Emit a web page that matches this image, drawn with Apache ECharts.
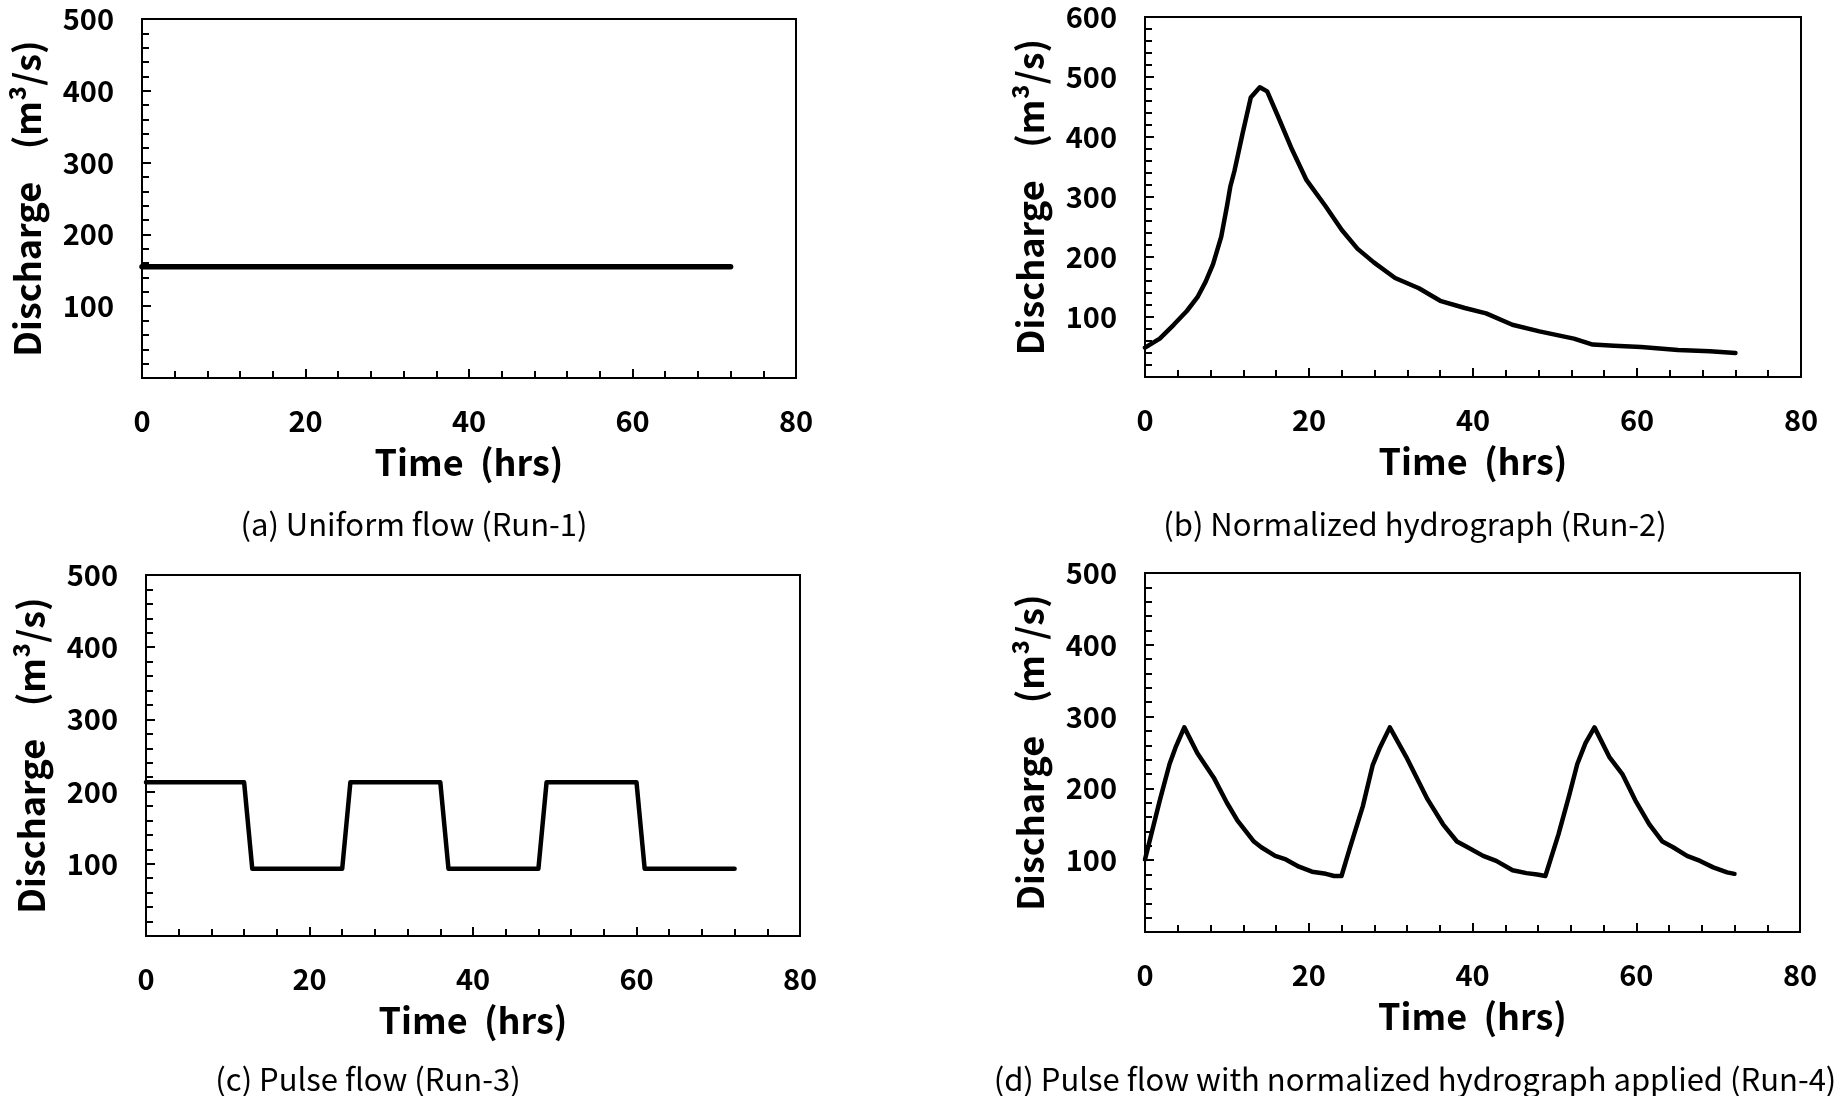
<!DOCTYPE html>
<html>
<head>
<meta charset="utf-8">
<script src="https://cdn.jsdelivr.net/npm/echarts@6/dist/echarts.min.js"></script>
<style>
html,body{margin:0;padding:0;background:#fff;}
#chart{width:1837px;height:1096px;}
</style>
</head>
<body>
<div id="chart"></div>
<script>
// ---- data ----
const xTicks = [0, 20, 40, 60, 80];
const captions = [
  "(a) Uniform flow (Run-1)",
  "(b) Normalized hydrograph (Run-2)",
  "(c) Pulse flow (Run-3)",
  "(d) Pulse flow with normalized hydrograph applied (Run-4)"
];
const xTitle = "Time  (hrs)";
const yTitle = "Discharge    (m\u00B3/s)";

const timeA = [0, 72];
const flowA = [155, 155];

const timeB = [0, 1.8, 3.5, 5.1, 6.4, 7.4, 8.3, 9.3, 10, 10.4, 10.9, 11.9, 12.9, 14, 14.9, 16.2, 17.8, 19.7, 22, 24, 25.9, 27.9, 30.5, 33.4, 36, 39, 41.6, 44.8, 48.1, 52.3, 54.6, 57.2, 60.5, 65, 68.9, 72];
const flowB = [49, 64, 87, 110, 133, 159, 188, 234, 285, 317, 343, 406, 466, 483, 476, 435, 383, 328, 285, 245, 214, 191, 165, 148, 127, 115, 106, 87, 76, 64, 54, 52, 50, 45, 43, 40];

const timeC = [0, 12, 13, 24, 25, 36, 37, 48, 49, 60, 61, 72];
const flowC = [213, 213, 93, 93, 213, 213, 93, 93, 213, 213, 93, 93];

const timeD = [0, 1.8, 3, 3.8, 4.8, 6.4, 8.4, 10, 11.3, 13.3, 14.2, 15.9, 17.2, 18.8, 20.4, 22.1, 23.1, 24, 25, 26.6, 27.8, 28.7, 29.9, 31.9, 34.5, 36.4, 38.1, 39.4, 41.3, 42.9, 44.9, 46.6, 47.9, 48.9, 50.5, 51.8, 52.8, 53.8, 54.9, 56.7, 58.3, 59.9, 61.6, 63.2, 64.5, 66.2, 67.8, 69.4, 71.1, 72];
const flowD = [101, 183, 234, 259, 285, 249, 215, 180, 155, 126, 118, 106, 101, 91, 84, 81, 78, 78, 116, 175, 232, 257, 285, 244, 185, 150, 126, 118, 106, 99, 86, 82, 80, 78, 136, 190, 234, 263, 285, 244, 220, 183, 150, 126, 118, 106, 99, 90, 83, 81];

const yMax = [500, 600, 500, 500];

// ---- layout ----
const grids = [
  {left: 142, top: 19, width: 654, height: 359},
  {left: 1145, top: 17, width: 656, height: 360},
  {left: 146, top: 575, width: 654, height: 361},
  {left: 1145, top: 573, width: 655, height: 359}
];
const captionPos = [[414, 524], [1415, 524], [368, 1079], [1415, 1079]];
const lineWidths = [5.5, 4.5, 4.5, 4.5];

const FONT = '"Noto Sans CJK KR", "Noto Sans", sans-serif';

function pairs(t, v) { return t.map((x, i) => [x, v[i]]); }
const seriesData = [pairs(timeA, flowA), pairs(timeB, flowB), pairs(timeC, flowC), pairs(timeD, flowD)];

const chart = echarts.init(document.getElementById('chart'), null, {renderer: 'canvas'});

const option = {
  animation: false,
  backgroundColor: '#fff',
  grid: grids.map(g => Object.assign({show: true, borderColor: '#000', borderWidth: 2, backgroundColor: 'transparent', containLabel: false}, g)),
  xAxis: grids.map((g, i) => ({
    gridIndex: i,
    type: 'value',
    min: xTicks[0], max: xTicks[xTicks.length - 1], interval: 20,
    name: xTitle,
    nameLocation: 'middle',
    nameGap: 66,
    nameTextStyle: {fontFamily: FONT, fontWeight: 'bold', fontSize: 36, color: '#000'},
    axisLine: {lineStyle: {color: '#000', width: 2}},
    axisTick: {inside: true, length: 9, lineStyle: {color: '#000', width: 2}},
    minorTick: {show: true, splitNumber: 5, length: 7, lineStyle: {color: '#000', width: 2}},
    splitLine: {show: false},
    axisLabel: {margin: 28, fontFamily: FONT, fontWeight: 'bold', fontSize: 29, color: '#000'}
  })),
  yAxis: grids.map((g, i) => ({
    gridIndex: i,
    type: 'value',
    min: 0, max: yMax[i], interval: 100,
    name: yTitle,
    nameLocation: 'middle',
    nameGap: 97,
    nameTextStyle: {fontFamily: FONT, fontWeight: 'bold', fontSize: 36, color: '#000'},
    axisLine: {lineStyle: {color: '#000', width: 2}},
    axisTick: {inside: true, length: 9, lineStyle: {color: '#000', width: 2}},
    minorTick: {show: true, splitNumber: 5, length: 7, lineStyle: {color: '#000', width: 2}},
    splitLine: {show: false},
    axisLabel: {showMinLabel: false, margin: 28, fontFamily: FONT, fontWeight: 'bold', fontSize: 29, color: '#000'}
  })),
  series: seriesData.map((d, i) => ({
    type: 'line',
    xAxisIndex: i, yAxisIndex: i,
    data: d,
    showSymbol: false,
    symbol: 'none',
    lineStyle: {color: '#000', width: lineWidths[i], cap: 'round', join: 'round'}
  })),
  graphic: captions.map((c, i) => ({
    type: 'text',
    x: captionPos[i][0], y: captionPos[i][1],
    style: {text: c, fontFamily: FONT, fontSize: 31, fontWeight: 'normal', fill: '#000', align: 'center', verticalAlign: 'middle'}
  }))
};
chart.setOption(option);
</script>
</body>
</html>
